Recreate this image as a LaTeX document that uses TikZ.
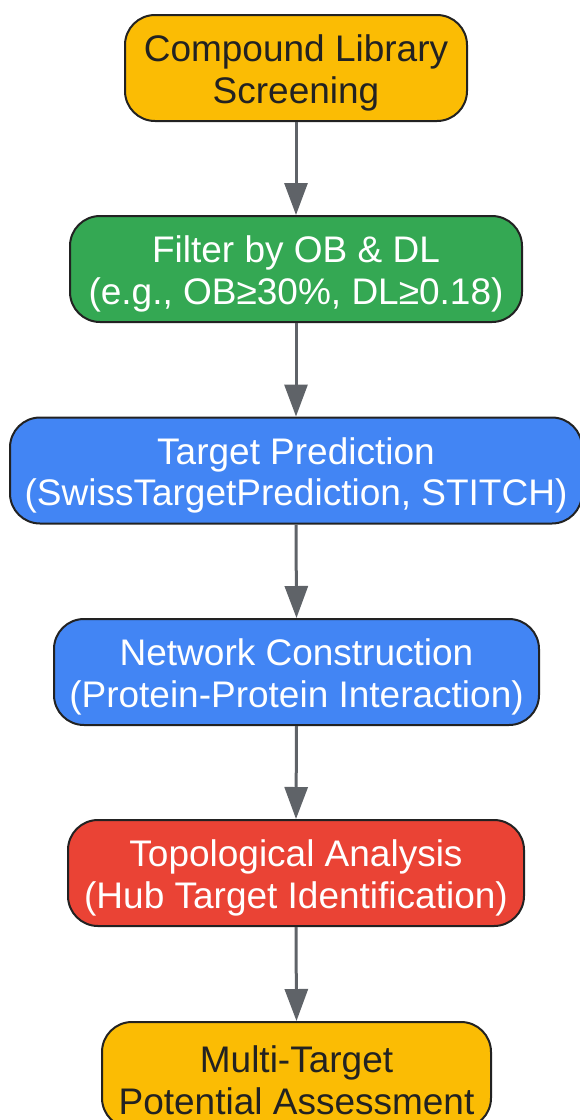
\documentclass[tikz,border=0pt]{standalone}
\usepackage{fontspec}
\setmainfont{Liberation Sans}
\usetikzlibrary{arrows.meta}
\definecolor{gyellow}{HTML}{FBBC04}
\definecolor{ggreen}{HTML}{34A853}
\definecolor{gblue}{HTML}{4285F4}
\definecolor{gred}{HTML}{EA4335}
\definecolor{garrow}{HTML}{5F6368}
\definecolor{gborder}{HTML}{222222}
\newcommand{\topstrut}{\rule{0pt}{37pt}}
\tikzset{
  stepbox/.style={draw=gborder, line width=2pt, rounded corners=30pt,
    minimum height=106pt, inner sep=0pt, align=center,
    font=\fontsize{37}{41.5}\selectfont},
  darktext/.style={text=gborder},
  lighttext/.style={text=white},
  flow/.style={draw=garrow, line width=3pt, -{Triangle[length=32pt,width=23pt]}}
}
\begin{document}
\begin{tikzpicture}[x=1pt,y=-1pt]
\useasboundingbox (0,0) rectangle (580,1120);
\clip (0,0) rectangle (580,1120);
\node[stepbox, darktext, fill=gyellow, minimum width=342pt] (a) at (296,68) {\topstrut Compound Library\\Screening};
\node[stepbox, lighttext, fill=ggreen, minimum width=452pt] (b) at (296,269) {\topstrut Filter by OB \& DL\\(e.g., OB≥30\%, DL≥0.18)};
\node[stepbox, lighttext, fill=gblue, minimum width=572pt] (c) at (296,470.5) {\topstrut Target Prediction\\(SwissTargetPrediction, STITCH)};
\node[stepbox, lighttext, fill=gblue, minimum width=485pt] (d) at (296.5,672) {\topstrut Network Construction\\(Protein-Protein Interaction)};
\node[stepbox, lighttext, fill=gred, minimum width=456pt] (e) at (296,873) {\topstrut Topological Analysis\\(Hub Target Identification)};
\node[stepbox, darktext, fill=gyellow, minimum width=389pt] (f) at (296.5,1075) {\topstrut Multi-Target\\Potential Assessment};
\draw[flow] (a.south) -- (b.north);
\draw[flow] (b.south) -- (c.north);
\draw[flow] (c.south) -- (d.north);
\draw[flow] (d.south) -- (e.north);
\draw[flow] (e.south) -- (f.north);
\end{tikzpicture}
\end{document}
